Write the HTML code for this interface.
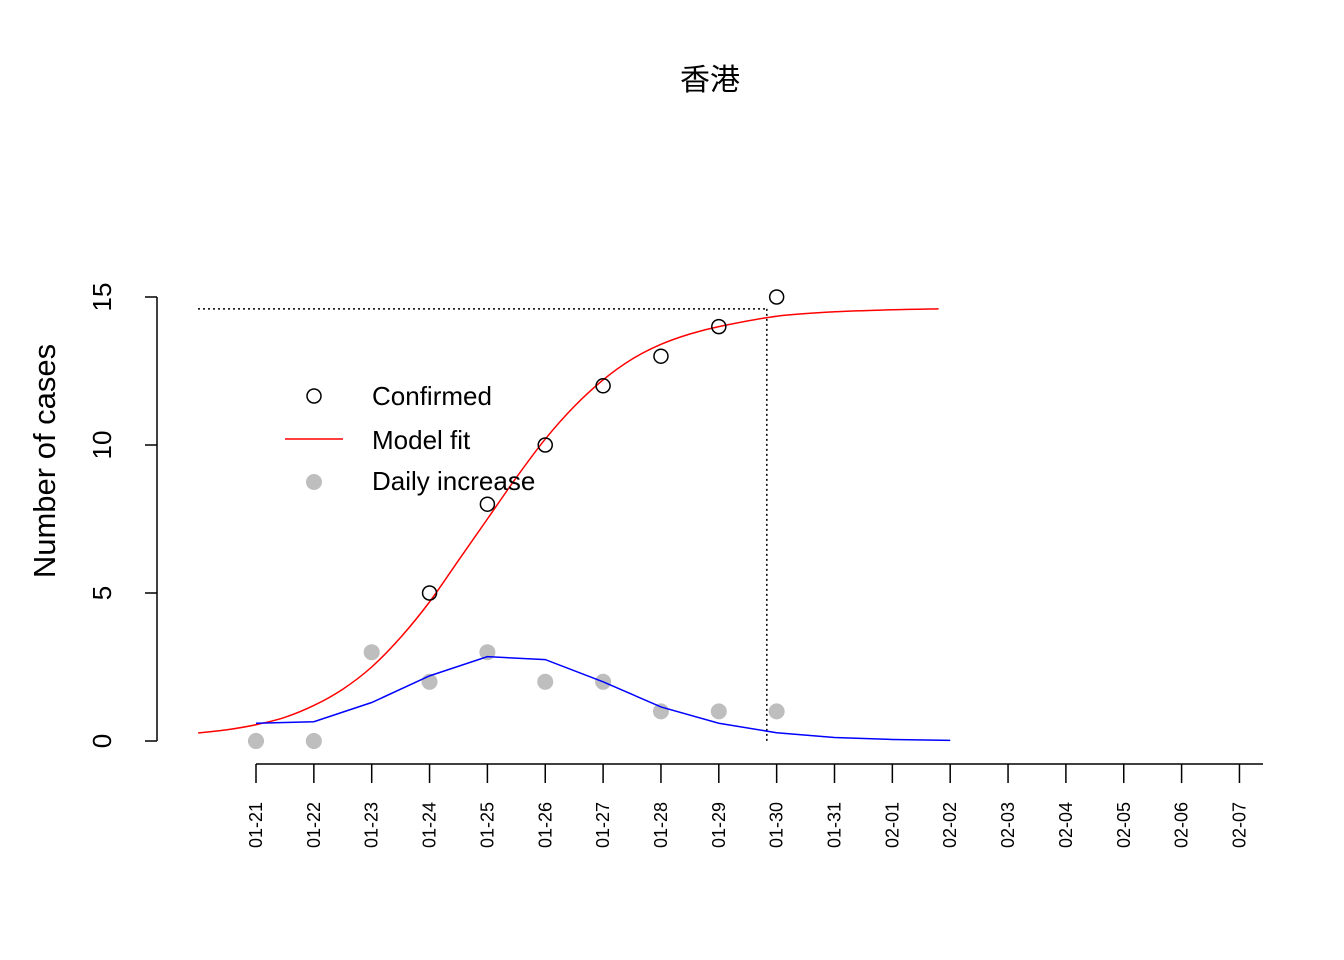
<!DOCTYPE html>
<html><head><meta charset="utf-8"><style>
html,body{margin:0;padding:0;background:#fff;}
svg{display:block;font-family:"Liberation Sans","Noto Sans CJK SC",sans-serif;}
</style></head><body>
<svg id="chart" width="1344" height="960" xmlns="http://www.w3.org/2000/svg">
<text x="710" y="90" text-anchor="middle" font-size="30">香港</text>
<g id="axes"></g>
<g id="marks"></g>
<g>
<circle cx="314" cy="396" r="7" fill="none" stroke="#000" stroke-width="1.5"/>
<text x="372" y="405" font-size="26">Confirmed</text>
<line x1="285" y1="439" x2="343" y2="439" stroke="#f00" stroke-width="1.5"/>
<text x="372" y="449" font-size="26">Model fit</text>
<circle cx="314" cy="482" r="8" fill="#bebebe"/>
<text x="372" y="490" font-size="26">Daily increase</text>
</g>
</svg>
<script>
const dates=["01-21","01-22","01-23","01-24","01-25","01-26","01-27","01-28","01-29","01-30","01-31","02-01","02-02","02-03","02-04","02-05","02-06","02-07"];
const confirmed=[0,0,3,5,8,10,12,13,14,15];
const daily=[0,0,3,2,3,2,2,1,1,1];
const smoothDaily=[0.6,0.65,1.3,2.2,2.85,2.75,2.0,1.15,0.6,0.28,0.12,0.05,0.02];
const fitDays=[-1,-0.5,0,0.5,1,1.5,2,2.5,3,3.5,4,4.5,5,5.5,6,6.5,7,7.5,8,9,10,11,11.8];
const fitVals=[0.27,0.38,0.55,0.8,1.2,1.75,2.5,3.5,4.7,6.1,7.5,8.9,10.2,11.3,12.2,12.9,13.4,13.75,14.0,14.35,14.5,14.57,14.6];
const yTicks=[0,5,10,15];
const plateau=14.6, peakDay=8.83;
const X=d=>256+d*57.85, Y=v=>741-v*29.6;
const NS="http://www.w3.org/2000/svg";
const axes=document.getElementById('axes'), marks=document.getElementById('marks');
function mk(p,tag,attrs){const e=document.createElementNS(NS,tag);for(const k in attrs)e.setAttribute(k,attrs[k]);p.appendChild(e);return e;}
function smoothPath(pts){let d='M'+pts[0][0]+','+pts[0][1];for(let i=0;i<pts.length-1;i++){const p0=pts[Math.max(0,i-1)],p1=pts[i],p2=pts[i+1],p3=pts[Math.min(pts.length-1,i+2)];const c1=[p1[0]+(p2[0]-p0[0])/6,p1[1]+(p2[1]-p0[1])/6],c2=[p2[0]-(p3[0]-p1[0])/6,p2[1]-(p3[1]-p1[1])/6];d+=` C${c1[0]},${c1[1]} ${c2[0]},${c2[1]} ${p2[0]},${p2[1]}`;}return d;}
let e=mk(axes,'line',{x1:157,y1:Y(15),x2:157,y2:Y(0),stroke:'#000','stroke-width':1.5});


yTicks.forEach(v=>{
 let t=mk(axes,'line',{x1:145,y1:Y(v),x2:157,y2:Y(v),stroke:'#000','stroke-width':1.5});
 
 
 let l=mk(axes,'text',{x:0,y:0,'font-size':26,'text-anchor':'middle',transform:`translate(111,${Y(v)}) rotate(-90)`});
 l.textContent=v;
 
 
});
e=mk(axes,'text',{x:0,y:0,'font-size':31,'text-anchor':'middle',transform:'translate(55,461) rotate(-90)'});
e.textContent='Number of cases';


e=mk(axes,'line',{x1:256,y1:764,x2:1263,y2:764,stroke:'#000','stroke-width':1.5});


dates.forEach((d,i)=>{
 let t=mk(axes,'line',{x1:X(i),y1:764,x2:X(i),y2:783,stroke:'#000','stroke-width':1.5});
 
 
 let l=mk(axes,'text',{x:0,y:0,'font-size':18,'text-anchor':'end',transform:`translate(${X(i)+6},802) rotate(-90)`});
 l.textContent=d;
 
 
});
e=mk(marks,'line',{x1:198,y1:Y(plateau),x2:X(peakDay),y2:Y(plateau),stroke:'#000','stroke-width':1.5,'stroke-dasharray':'2,3'});


e=mk(marks,'line',{x1:X(peakDay),y1:Y(plateau),x2:X(peakDay),y2:Y(0),stroke:'#000','stroke-width':1.5,'stroke-dasharray':'2,3'});


e=mk(marks,'path',{d:smoothPath(fitVals.map((v,i)=>[X(fitDays[i]),Y(v)])),fill:'none',stroke:'#f00','stroke-width':1.5});


confirmed.forEach((v,i)=>{
 let c=mk(marks,'circle',{cx:X(i),cy:Y(v),r:7,fill:'none',stroke:'#000','stroke-width':1.5});
 
 
});
daily.forEach((v,i)=>{
 let c=mk(marks,'circle',{cx:X(i),cy:Y(v),r:8,fill:'#bebebe'});
 
 
});
e=mk(marks,'polyline',{points:smoothDaily.map((v,i)=>X(i)+','+Y(v)).join(' '),fill:'none',stroke:'#00f','stroke-width':1.5});


</script>
</body></html>
